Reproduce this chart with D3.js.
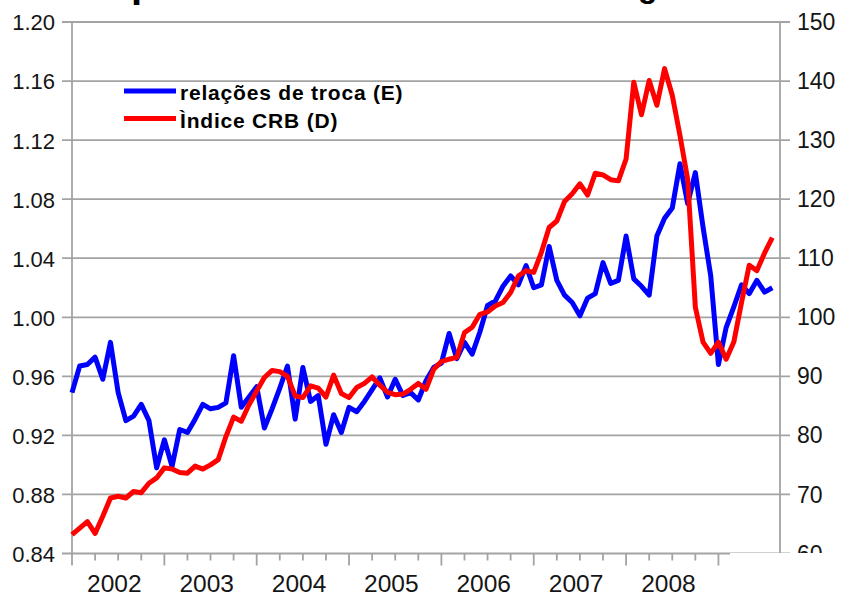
<!DOCTYPE html>
<html>
<head>
<meta charset="utf-8">
<script src="https://cdn.jsdelivr.net/npm/d3@7"></script>
<style>
  body { margin: 0; background: #fff; }
  text { font-family: "Liberation Sans", Arial, sans-serif; }
</style>
</head>
<body>
<div id="chart"></div>
<script>
// monthly, Jan 2002 .. Aug 2009
var termsOfTrade = [
  0.949, 0.967, 0.968, 0.973, 0.958, 0.983, 0.949, 0.930, 0.933, 0.941, 0.930, 0.898,
  0.917, 0.899, 0.924, 0.922, 0.931, 0.941, 0.938, 0.939, 0.942, 0.974, 0.939, 0.946,
  0.953, 0.925, 0.938, 0.952, 0.967, 0.931, 0.966, 0.943, 0.947, 0.914, 0.934, 0.922,
  0.939, 0.936, 0.943, 0.951, 0.959, 0.946, 0.958, 0.947, 0.949, 0.944, 0.957, 0.966,
  0.969, 0.989, 0.972, 0.983, 0.975, 0.990, 1.008, 1.011, 1.021, 1.028, 1.022, 1.035,
  1.020, 1.022, 1.048, 1.025, 1.015, 1.010, 1.001, 1.013, 1.016, 1.037, 1.023, 1.025,
  1.055, 1.026, 1.021, 1.015, 1.055, 1.067, 1.074, 1.104, 1.077, 1.098, 1.061, 1.028,
  0.968, 0.993, 1.007, 1.022, 1.016, 1.025, 1.017, 1.020
];
var crbIndex = [
  63.2, 64.3, 65.4, 63.4, 66.3, 69.4, 69.7, 69.4, 70.5, 70.3, 71.9, 72.8,
  74.5, 74.3, 73.7, 73.6, 74.8, 74.3, 75.0, 75.9, 79.8, 83.1, 82.4, 85.2,
  87.5, 89.8, 91.0, 90.8, 90.0, 86.7, 86.4, 88.4, 88.0, 86.5, 90.2, 87.1,
  86.4, 88.1, 88.8, 89.9, 88.5, 87.3, 86.9, 87.0, 87.8, 88.8, 87.8, 91.2,
  92.5, 92.9, 93.2, 97.4, 98.3, 100.5, 100.9, 101.9, 102.5, 104.2, 107.0, 107.9,
  107.6, 111.0, 115.2, 116.3, 119.6, 120.9, 122.6, 120.7, 124.4, 124.1, 123.3, 123.1,
  126.8, 139.8, 134.3, 140.1, 135.9, 142.1, 137.6, 130.8, 123.4, 101.7, 95.8, 93.9,
  95.8, 92.9, 95.8, 102.5, 108.8, 107.9, 110.9, 113.5
];
var years = ["2002", "2003", "2004", "2005", "2006", "2007", "2008"];
var leftTicks = [0.84, 0.88, 0.92, 0.96, 1.00, 1.04, 1.08, 1.12, 1.16, 1.20];
var rightTicks = [60, 70, 80, 90, 100, 110, 120, 130, 140, 150];
var seriesNames = ["relações de troca (E)", "Ìndice CRB (D)"];
var seriesColors = ["#0000ff", "#ff0000"];

var w = 841;
var h = 594;
var plotLeft = 72, plotRight = 780, plotTop = 22, plotBottom = 553.5;
var gridColor = "#a3a3a3";

var svg = d3.select("#chart")
    .append("svg")
    .attr("width", w)
    .attr("height", h);

var x = d3.scaleLinear().domain([0, 92]).range([plotLeft, plotRight]);
var yL = d3.scaleLinear().domain([0.84, 1.20]).range([plotBottom, plotTop]);
var yR = d3.scaleLinear().domain([60, 150]).range([plotBottom, plotTop]);

// cut-off title, only descenders visible
svg.append("text").attr("x", 131).attr("y", -3)
    .attr("font-size", "40px").attr("font-weight", "bold").text("p");
svg.append("text").attr("x", 638).attr("y", -3)
    .attr("font-size", "32px").attr("font-weight", "bold").text("g");

// gridlines
svg.append("g")
    .selectAll("line")
    .data(leftTicks)
    .enter()
    .append("line")
    .attr("x1", plotLeft - 10)
    .attr("x2", plotRight + 10)
    .attr("y1", function(d) { return yL(d); })
    .attr("y2", function(d) { return yL(d); })
    .attr("stroke", gridColor)
    .attr("stroke-width", 1.8);

// vertical axis lines
svg.append("line").attr("x1", plotLeft).attr("x2", plotLeft).attr("y1", plotTop).attr("y2", plotBottom)
    .attr("stroke", gridColor).attr("stroke-width", 1.8);
svg.append("line").attr("x1", plotRight).attr("x2", plotRight).attr("y1", plotTop).attr("y2", plotBottom)
    .attr("stroke", gridColor).attr("stroke-width", 1.8);

// left axis labels
var axisL = d3.axisLeft(yL).tickValues(leftTicks).tickSize(0).tickPadding(17)
    .tickFormat(d3.format(".2f"));
var gL = svg.append("g").attr("transform", "translate(" + plotLeft + ",0)").call(axisL);
gL.select(".domain").remove();
gL.selectAll("text").attr("font-size", "22px").attr("fill", "#151515")
    .attr("font-family", "Liberation Sans, Arial, sans-serif").attr("dy", "0.36em");

// right axis labels
var axisR = d3.axisRight(yR).tickValues(rightTicks).tickSize(0).tickPadding(17)
    .tickFormat(d3.format("d"));
var gR = svg.append("g").attr("transform", "translate(" + plotRight + ",0)").call(axisR);
gR.select(".domain").remove();
gR.selectAll("text").attr("font-size", "23px").attr("fill", "#151515")
    .attr("font-family", "Liberation Sans, Arial, sans-serif").attr("dy", "0.33em");

// bottom axis: quarterly ticks, longer at year starts
var quarters = d3.range(0, 91, 3);
svg.append("g")
    .selectAll("line")
    .data(quarters)
    .enter()
    .append("line")
    .attr("x1", function(d) { return x(d); })
    .attr("x2", function(d) { return x(d); })
    .attr("y1", plotBottom)
    .attr("y2", function(d) { return d % 12 == 0 ? plotBottom + 12 : plotBottom + 7; })
    .attr("stroke", gridColor)
    .attr("stroke-width", 1.8);

svg.append("g")
    .selectAll("text")
    .data(years)
    .enter()
    .append("text")
    .attr("x", function(d, i) { return x(i * 12 + 5.5); })
    .attr("y", 592)
    .attr("text-anchor", "middle")
    .attr("font-size", "24.5px")
    .attr("fill", "#151515")
    .text(function(d) { return d; });

// series
var lineL = d3.line()
    .x(function(d, i) { return x(i); })
    .y(function(d) { return yL(d); });
var lineR = d3.line()
    .x(function(d, i) { return x(i); })
    .y(function(d) { return yR(d); });

svg.append("path")
    .attr("d", lineL(termsOfTrade))
    .attr("fill", "none")
    .attr("stroke", seriesColors[0])
    .attr("stroke-width", 5)
    .attr("stroke-linejoin", "round");

svg.append("path")
    .attr("d", lineR(crbIndex))
    .attr("fill", "none")
    .attr("stroke", seriesColors[1])
    .attr("stroke-width", 5)
    .attr("stroke-linejoin", "round");

// white patch over the bottom right corner, as in the original
svg.append("rect")
    .attr("x", 730).attr("y", 553)
    .attr("width", w - 730).attr("height", h - 553)
    .attr("fill", "#fff");

// legend
var legend = svg.append("g")
    .selectAll("g")
    .data(seriesNames)
    .enter()
    .append("g")
    .attr("transform", function(d, i) { return "translate(124," + (91 + i * 27.5) + ")"; });

legend.append("line")
    .attr("x1", 0).attr("x2", 52)
    .attr("stroke", function(d, i) { return seriesColors[i]; })
    .attr("stroke-width", 5);

legend.append("text")
    .attr("x", 56)
    .attr("y", 9)
    .attr("font-size", "21px")
    .attr("font-weight", "bold")
    .attr("letter-spacing", "0.8px")
    .attr("fill", "#000")
    .text(function(d) { return d; });
</script>
</body>
</html>
